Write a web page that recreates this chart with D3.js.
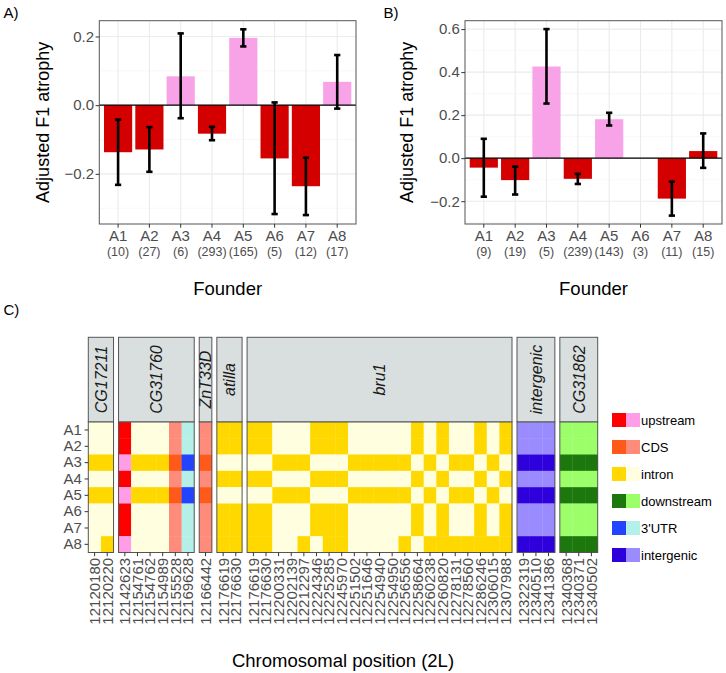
<!DOCTYPE html>
<html><head><meta charset="utf-8">
<script src="https://cdn.jsdelivr.net/npm/d3@7"></script>
<style>body{margin:0;background:#fff} svg{font-family:"Liberation Sans",Arial,Helvetica,sans-serif}</style>
</head><body><svg id="c" width="726" height="673"></svg>
<script>
const founders = ["A1","A2","A3","A4","A5","A6","A7","A8"];
// Panel A
const countsA = [10,27,6,293,165,5,12,17];
const valuesA = [-0.137,-0.129,0.084,-0.083,0.196,-0.155,-0.236,0.068];
const lowerA  = [-0.232,-0.194,-0.038,-0.102,0.171,-0.317,-0.320,-0.010];
const upperA  = [-0.042,-0.064,0.209,-0.063,0.221,0.008,-0.153,0.146];
const groupA  = ["red","red","pink","red","pink","red","red","pink"];
const ticksA  = [-0.2,0,0.2];
const minorA  = [-0.3,-0.1,0.1];
// Panel B
const countsB = [9,19,5,239,143,3,11,15];
const valuesB = [-0.044,-0.102,0.426,-0.096,0.181,null,-0.188,0.033];
const lowerB  = [-0.179,-0.169,0.254,-0.120,0.152,null,-0.267,-0.045];
const upperB  = [0.090,-0.039,0.600,-0.073,0.211,null,-0.109,0.115];
const groupB  = ["red","red","pink","red","pink","red","red","red"];
const ticksB  = [-0.2,0,0.2,0.4,0.6];
const minorB  = [-0.3,-0.1,0.1,0.3,0.5];
const barColors = {red:"#d40000", pink:"#f8a2e8"};

// Panel C
const genes = ["CG17211","CG31760","ZnT33D","atilla","bru1","intergenic","CG31862"];
const positions = [
  ["12120180","12120220"],
  ["12142623","12154761","12154762","12154989","12155528","12169628"],
  ["12166442"],
  ["12176619","12176630"],
  ["12176619","12176630","12200331","12202139","12212297","12224346","12225285","12245970","12251502","12251646","12254940","12254950","12256556","12258664","12260238","12260820","12278131","12278560","12286246","12306015","12307988"],
  ["12322319","12340510","12341386"],
  ["12340368","12340371","12340502"]
];
const regions = [
  ["intron","intron"],
  ["upstream","intron","intron","intron","CDS","3'UTR"],
  ["CDS"],
  ["intron","intron"],
  ["intron","intron","intron","intron","intron","intron","intron","intron","intron","intron","intron","intron","intron","intron","intron","intron","intron","intron","intron","intron","intron"],
  ["intergenic","intergenic","intergenic"],
  ["downstream","downstream","downstream"]
];
// 1 = first (dark) shade, 0 = second (light) shade; genes separated by spaces
const alleles = [
  "00 100000 0 11 110001110000010100101 000 000",
  "00 100000 0 11 110001110000010100101 000 000",
  "11 011111 1 00 001110001111101011010 111 111",
  "00 100000 0 11 110001110000010100101 000 000",
  "11 011111 1 00 001110001111101011010 111 111",
  "00 100000 0 11 110001110000010100101 000 000",
  "00 100000 0 11 110001110000010100101 000 000",
  "01 000000 0 11 110010110000101111111 111 111"
];
const regionTypes = ["upstream","CDS","intron","downstream","3'UTR","intergenic"];
const darkColors  = ["#ff0000","#ff5a1a","#ffd800","#1c780c","#2244ff","#2e00dc"];
const lightColors = ["#ff9ee6","#ff8b7a","#ffffe0","#9cff6a","#b4f0e8","#9a8cff"];

const svg = d3.select("#c");
const AX = "#4d4d4d";

function barPanel(c) {
  const x = d3.scaleBand().domain(founders).range([c.left,c.right]).paddingInner(0.1).paddingOuter(0.15);
  const y = d3.scaleLinear().domain(c.domain).range([c.bottom,c.top]);
  const g = svg.append("g");
  const cx = d => x(d) + x.bandwidth()/2;
  g.selectAll(".mn").data(c.minor).join("line")
    .attr("x1",c.left).attr("x2",c.right).attr("y1",d=>y(d)).attr("y2",d=>y(d))
    .attr("stroke","#f1f3f3").attr("stroke-width",0.6);
  g.selectAll(".mj").data(c.ticks).join("line")
    .attr("x1",c.left).attr("x2",c.right).attr("y1",d=>y(d)).attr("y2",d=>y(d))
    .attr("stroke","#e8ecec").attr("stroke-width",1.1);
  g.selectAll(".vj").data(founders).join("line")
    .attr("x1",cx).attr("x2",cx).attr("y1",c.top).attr("y2",c.bottom)
    .attr("stroke","#e8ecec").attr("stroke-width",1.1);
  const data = founders.map((f,i)=>({f, v:c.values[i], lo:c.lower[i], hi:c.upper[i], g:c.group[i], n:c.counts[i]}));
  const valid = data.filter(d=>d.v!==null);
  g.selectAll(".bar").data(valid).join("rect")
    .attr("x",d=>x(d.f)).attr("width",x.bandwidth())
    .attr("y",d=>y(Math.max(0,d.v))).attr("height",d=>Math.abs(y(d.v)-y(0)))
    .attr("fill",d=>barColors[d.g]);
  g.append("line").attr("x1",c.left).attr("x2",c.right).attr("y1",y(0)).attr("y2",y(0))
    .attr("stroke","#000").attr("stroke-width",1.2);
  const cap = x.step()*0.2/2;
  const eb = g.selectAll(".eb").data(valid).join("g").attr("stroke","#000").attr("stroke-width",2.6);
  eb.append("line").attr("x1",d=>cx(d.f)).attr("x2",d=>cx(d.f)).attr("y1",d=>y(d.lo)).attr("y2",d=>y(d.hi));
  eb.append("line").attr("x1",d=>cx(d.f)-cap).attr("x2",d=>cx(d.f)+cap).attr("y1",d=>y(d.lo)).attr("y2",d=>y(d.lo));
  eb.append("line").attr("x1",d=>cx(d.f)-cap).attr("x2",d=>cx(d.f)+cap).attr("y1",d=>y(d.hi)).attr("y2",d=>y(d.hi));
  g.append("rect").attr("x",c.left).attr("y",c.top).attr("width",c.right-c.left).attr("height",c.bottom-c.top)
    .attr("fill","none").attr("stroke","#555").attr("stroke-width",1);
  // axes
  const ya = g.append("g").attr("transform",`translate(${c.left},0)`)
    .call(d3.axisLeft(y).tickValues(c.ticks).tickSize(3.7).tickPadding(1.5).tickFormat(d3.format(".1f")));
  ya.select(".domain").remove();
  ya.selectAll("line").attr("stroke","#333");
  ya.selectAll("text").attr("font-size",15).attr("fill",AX).attr("font-family",null);
  const xa = g.append("g").attr("transform",`translate(0,${c.bottom})`)
    .call(d3.axisBottom(x).tickSize(3.7).tickFormat(""));
  xa.select(".domain").remove();
  xa.selectAll("line").attr("stroke","#333");
  g.selectAll(".xl").data(data).join("text").attr("x",d=>cx(d.f)).attr("y",c.bottom+16.5)
    .attr("text-anchor","middle").attr("font-size",15).attr("fill",AX).text(d=>d.f);
  g.selectAll(".xn").data(data).join("text").attr("x",d=>cx(d.f)).attr("y",c.bottom+32)
    .attr("text-anchor","middle").attr("font-size",12.5).attr("fill",AX).text(d=>`(${d.n})`);
  g.append("text").attr("x",(c.left+c.right)/2).attr("y",295).attr("text-anchor","middle")
    .attr("font-size",18.5).attr("fill","#000").text("Founder");
  g.append("text").attr("transform",`translate(${c.titleX},${(c.top+c.bottom)/2}) rotate(-90)`)
    .attr("text-anchor","middle").attr("font-size",18).attr("fill","#000").text("Adjusted F1 atrophy");
  g.append("text").attr("x",c.labelX).attr("y",17.5).attr("font-size",15).attr("fill","#000").text(c.label);
}

barPanel({left:99.3,right:356,top:20.7,bottom:224,domain:[-0.346,0.246],ticks:ticksA,minor:minorA,
  values:valuesA,lower:lowerA,upper:upperA,group:groupA,counts:countsA,label:"A)",labelX:3.5,titleX:48.5});
barPanel({left:465,right:722,top:20.7,bottom:224,domain:[-0.306,0.639],ticks:ticksB,minor:minorB,
  values:valuesB,lower:lowerB,upper:upperB,group:groupB,counts:countsB,label:"B)",labelX:383.5,titleX:413});

// Panel C heatmap
svg.append("text").attr("x",3.5).attr("y",315).attr("font-size",15).attr("fill","#000").text("C)");
const hmLeft = 88.3, hmRight = 597.7, gap = 5, hmTop = 421.8, hmBottom = 552.5, stripTop = 337.3;
const nCols = d3.sum(positions, p=>p.length);
const colW = (hmRight - hmLeft - gap*(genes.length-1))/nCols;
const yH = d3.scaleBand().domain(founders).range([hmTop,hmBottom]);
const defs = svg.append("defs");
let cursor = hmLeft;
const rowBits = alleles.map(s=>s.split(" "));
genes.forEach((gene,gi)=>{
  const pos = positions[gi];
  const x0 = cursor, x1 = cursor + pos.length*colW;
  cursor = x1 + gap;
  const xs = d3.scaleBand().domain(pos).range([x0,x1]);
  const g = svg.append("g");
  const cells = [];
  founders.forEach((f,fi)=>{
    pos.forEach((p,pi)=>{
      const t = regionTypes.indexOf(regions[gi][pi]);
      const dark = rowBits[fi][gi][pi]==="1";
      cells.push({f,p,col: dark?darkColors[t]:lightColors[t]});
    });
  });
  g.selectAll("rect.cell").data(cells).join("rect").attr("class","cell")
    .attr("x",d=>xs(d.p)).attr("y",d=>yH(d.f)).attr("width",xs.bandwidth()+0.3).attr("height",yH.bandwidth()+0.3)
    .attr("fill",d=>d.col);
  g.append("rect").attr("x",x0).attr("y",hmTop).attr("width",x1-x0).attr("height",hmBottom-hmTop)
    .attr("fill","none").attr("stroke","#555").attr("stroke-width",1);
  // strip
  const cid = "clip"+gi;
  defs.append("clipPath").attr("id",cid).append("rect").attr("x",x0).attr("y",stripTop).attr("width",x1-x0).attr("height",hmTop-stripTop);
  g.append("rect").attr("x",x0).attr("y",stripTop).attr("width",x1-x0).attr("height",hmTop-stripTop)
    .attr("fill","#d9dede").attr("stroke","#555").attr("stroke-width",1);
  g.append("g").attr("clip-path",`url(#${cid})`).append("text")
    .attr("transform",`translate(${(x0+x1)/2},${(stripTop+hmTop)/2}) rotate(-90)`)
    .attr("text-anchor","middle").attr("dy","0.36em").attr("font-size",16).attr("font-style","italic")
    .attr("fill","#1a1a1a").text(gene);
  const xa = g.append("g").attr("transform",`translate(0,${hmBottom})`)
    .call(d3.axisBottom(xs).tickSize(3.7));
  xa.select(".domain").remove();
  xa.selectAll("line").attr("stroke","#333");
  xa.selectAll("text").attr("font-size",15).attr("fill",AX).attr("font-family",null)
    .attr("transform","rotate(-90)").attr("text-anchor","end").attr("x",-5.4).attr("y",0).attr("dy","0.36em");
});
const ya = svg.append("g").attr("transform",`translate(${hmLeft},0)`)
  .call(d3.axisLeft(yH).tickSize(3.7).tickPadding(2.8));
ya.select(".domain").remove();
ya.selectAll("line").attr("stroke","#333");
ya.selectAll("text").attr("font-size",15).attr("fill",AX).attr("font-family",null);
svg.append("text").attr("x",(hmLeft+hmRight)/2).attr("y",666.5).attr("text-anchor","middle")
  .attr("font-size",18.5).attr("fill","#000").text("Chromosomal position (2L)");

// legend
const lg = svg.append("g");
const ly = d3.scaleBand().domain(regionTypes).range([406.5,568.5]);
regionTypes.forEach((r,i)=>{
  const cy = ly(r)+ly.bandwidth()/2;
  lg.append("rect").attr("x",612).attr("y",cy-7).attr("width",14).attr("height",14).attr("fill",darkColors[i]);
  lg.append("rect").attr("x",626).attr("y",cy-7).attr("width",14).attr("height",14).attr("fill",lightColors[i]);
  lg.append("text").attr("x",641).attr("y",cy).attr("dy","0.35em").attr("font-size",13).attr("fill","#000").text(r);
});
</script></body></html>
